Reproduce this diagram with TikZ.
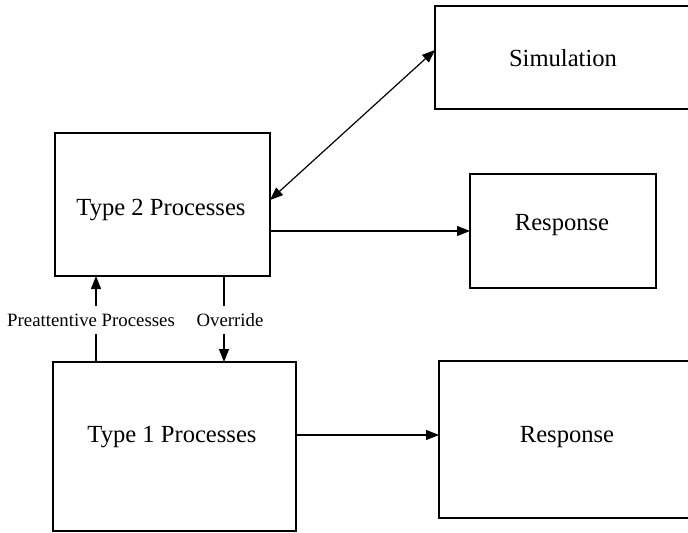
\documentclass[tikz,border=0pt]{standalone}
\usepackage{fontspec}
\setmainfont{Liberation Serif}
\usetikzlibrary{arrows.meta,calc}
\begin{document}
\begin{tikzpicture}[x=0.5pt,y=-0.5pt,
  box/.style={draw,line width=0.8pt,inner sep=0pt,outer sep=0pt,anchor=north west},
  txt/.style={anchor=base,font=\fontsize{12.3}{14}\selectfont,inner sep=0pt},
  lbl/.style={anchor=base,font=\fontsize{9.4}{11}\selectfont,inner xsep=1pt,inner ysep=3.5pt},
  con/.style={line width=0.6pt},
  arr/.style={con,-{Triangle[length=6.5pt,width=5pt]}},
  dbl/.style={con,{Triangle[length=6.5pt,width=5pt]}-{Triangle[length=6.5pt,width=5pt]}}]
\useasboundingbox (0,0) rectangle (688,532);
% boxes
\node[box,minimum width=107.5pt,minimum height=71.5pt] (t2) at (55,133) {};
\node[box,minimum width=128pt,minimum height=51.5pt] (sim) at (435,6) {};
\node[box,minimum width=93pt,minimum height=57pt] (r2) at (470,174) {};
\node[box,minimum width=121.5pt,minimum height=84.5pt] (t1) at (53,362) {};
\node[box,minimum width=128pt,minimum height=78.5pt] (r1) at (439,361) {};
% texts
\node[txt] (t2t) at (161,215) {Type 2 Processes};
\node[txt] (simt) at (563,66) {Simulation};
\node[txt] (r2t) at (562,230) {Response};
\node[txt] (t1t) at (172,442) {Type 1 Processes};
\node[txt] (r1t) at (567,442) {Response};
% labels
\node[lbl] (pre) at (91,326) {Preattentive Processes};
\node[lbl] (ovr) at (230,326) {Override};
\coordinate (px) at (96,0);
\coordinate (ox) at (224,0);
% connectors
\draw[dbl] ([yshift=2.25pt]t2.east) -- ([yshift=3.75pt]sim.west);
\draw[arr] (t2.east |- r2.west) -- (r2.west);
\draw[arr] ([yshift=2.25pt]r1.west -| t1.east) -- ([yshift=2.25pt]r1.west);
\draw[con] (t1.north -| px) -- (pre.south -| px);
\draw[arr] (pre.north -| px) -- (t2.south -| px);
\draw[con] (t2.south -| ox) -- (ovr.north -| ox);
\draw[arr] (ovr.south -| ox) -- (t1.north -| ox);
\end{tikzpicture}
\end{document}
